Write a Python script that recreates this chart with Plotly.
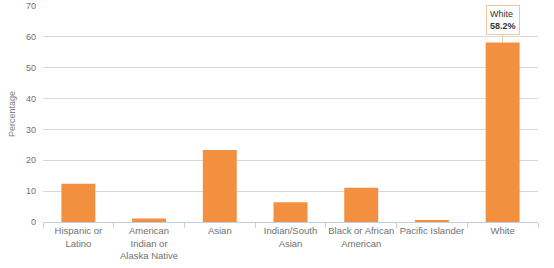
import plotly.graph_objects as go

categories = ["Hispanic or<br>Latino", "American<br>Indian or<br>Alaska Native", "Asian",
              "Indian/South<br>Asian", "Black or African<br>American", "Pacific Islander", "White"]
values = [12.4, 1.1, 23.3, 6.4, 11.1, 0.6, 58.2]
y_ticks = [0, 10, 20, 30, 40, 50, 60, 70]

fig = go.Figure(go.Bar(x=categories, y=values, marker_color="#f39040", width=0.48,
                       marker_line_width=0, hoverinfo="skip"))

fig.add_annotation(x=categories[-1], y=values[-1], text="White<br><b>58.2%</b>",
                   showarrow=True, arrowhead=0, arrowwidth=1, arrowcolor="#f0c8a0",
                   ax=0, ay=-22, bgcolor="white", bordercolor="#f0c8a0", borderwidth=1,
                   borderpad=3, font=dict(size=9, color="#333333", family="Liberation Sans"),
                   align="left")

fig.update_layout(
    width=554, height=268,
    margin=dict(l=43, r=16, t=6, b=46),
    paper_bgcolor="white", plot_bgcolor="white",
    showlegend=False,
    font=dict(family="Liberation Sans", size=9.5, color="#707070"),
    bargap=0.5,
)
fig.update_xaxes(type="category", tickson="boundaries", ticks="outside", ticklen=5,
                 tickcolor="#c0d0e0", showline=True, linecolor="#c0d0e0", linewidth=1,
                 showgrid=False, tickangle=0, automargin=False,
                 tickfont=dict(size=9.5, color="#707070"))
fig.update_yaxes(range=[0, 70], tickvals=y_ticks, showgrid=True, gridcolor="#d8d8d8",
                 gridwidth=1, zeroline=False, showline=False, automargin=False,
                 title=dict(text="Percentage", font=dict(size=9, color="#808080"), standoff=8),
                 tickfont=dict(size=9, color="#707070"), ticks="", ticklabelstandoff=6)

fig.write_html("out.html")
